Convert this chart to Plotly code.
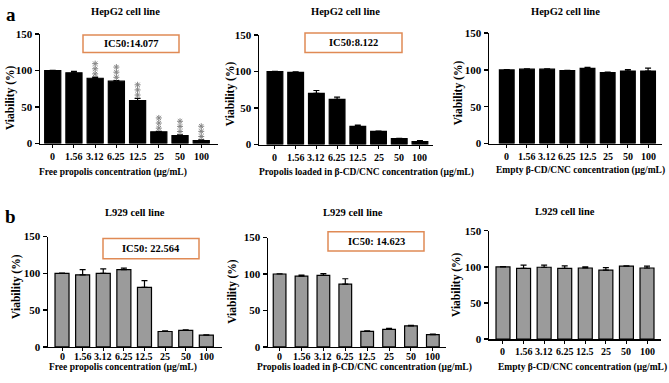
import plotly.graph_objects as go

W, H = 669, 383
conc = ["0", "1.56", "3.12", "6.25", "12.5", "25", "50", "100"]

# HepG2
hep_free = [100, 97, 89.5, 85.5, 59, 16, 11, 4]
hep_free_err = [0.3, 1.8, 1.5, 0.8, 3, 0.6, 1.0, 1.2]
hep_free_sig = [0, 0, 3, 3, 3, 3, 3, 3]   # number of asterisks (***)
hep_load = [100, 99, 70, 62, 25, 18, 8, 4]
hep_load_err = [0.3, 0.5, 4, 3, 1.5, 0.5, 0.6, 1.2]
hep_empty = [100, 101, 101, 99, 102, 96.5, 98.5, 98.5]
hep_empty_err = [0.3, 0.6, 0.6, 0.5, 1.5, 0.6, 2.0, 4.0]

# L929
l9_free = [100, 98, 100, 105, 81, 21, 22.5, 16]
l9_free_err = [0.3, 7, 6, 2, 9, 1, 0.6, 0.5]
l9_load = [100, 97, 98, 86, 21.5, 24, 29, 17]
l9_load_err = [0.3, 1.5, 2.5, 7.5, 0.6, 1.5, 0.6, 0.5]
l9_empty = [100, 98, 99.5, 98, 98.5, 95.5, 101, 98.5]
l9_empty_err = [0.3, 4.5, 3, 3.5, 1.5, 3.5, 0.5, 2.5]

panels = [
    dict(v=hep_free, e=hep_free_err, sig=hep_free_sig, color="black", px=(40, 218), py=(29, 142),
         xr=(-0.6, 7.79), bw=0.76, title="HepG2 cell line", tx=125, ty=6,
         xt="Free propolis concentration (µg/mL)", xtx=113, xty=172, tky=155,
         yt=(10, 95), ic="IC50:14.077", box=(83, 30, 179, 48)),
    dict(v=hep_load, e=hep_load_err, sig=None, color="black", px=(259, 433), py=(30, 143),
         xr=(-0.77, 7.63), bw=0.76, title="HepG2 cell line", tx=345, ty=6,
         xt="Propolis loaded in β-CD/CNC concentration (µg/mL)", xtx=366, xty=172, tky=156,
         yt=(230, 90), ic="IC50:8.122", box=(305, 28, 402, 48)),
    dict(v=hep_empty, e=hep_empty_err, sig=None, color="black", px=(489, 662), py=(28, 142),
         xr=(-0.88, 7.69), bw=0.73, title="HepG2 cell line", tx=565, ty=6,
         xt="Empty β-CD/CNC concentration (µg/mL)", xtx=580, xty=170, tky=155,
         yt=(458, 90), ic=None, box=None),
    dict(v=l9_free, e=l9_free_err, sig=None, color="#9b9b9b", px=(48, 222), py=(238, 352),
         xr=(-0.68, 7.76), bw=0.68, title="L929 cell line", tx=135, ty=213,
         xt="Free propolis concentration (µg/mL)", xtx=123, xty=373, tky=362,
         yt=(17, 290), ic="IC50: 22.564", box=(103, 240, 199, 261)),
    dict(v=l9_load, e=l9_load_err, sig=None, color="#9b9b9b", px=(268, 446), py=(239, 352),
         xr=(-0.53, 7.6), bw=0.58, title="L929 cell line", tx=353, ty=213,
         xt="Propolis loaded in β-CD/CNC concentration (µg/mL)", xtx=364, xty=373, tky=362,
         yt=(233, 295), ic="IC50: 14.623", box=(328, 233, 424, 253)),
    dict(v=l9_empty, e=l9_empty_err, sig=None, color="#9b9b9b", px=(489, 661), py=(232, 344),
         xr=(-0.68, 7.68), bw=0.68, title="L929 cell line", tx=565, ty=212,
         xt="Empty β-CD/CNC concentration (µg/mL)", xtx=582, xty=373, tky=357,
         yt=(457, 288), ic=None, box=None),
]

FONT = "Liberation Serif"
fig = go.Figure()
annotations = []
shapes = []
layout = dict(width=W, height=H, margin=dict(l=0, r=0, t=0, b=0),
              plot_bgcolor="white", paper_bgcolor="white", showlegend=False,
              font=dict(family=FONT, color="black"), bargap=0, hovermode=False)

def fx(p):
    return p / W

def fy(p):
    return 1 - p / H

for i, p in enumerate(panels):
    n = i + 1
    xa = "x" if n == 1 else f"x{n}"
    ya = "y" if n == 1 else f"y{n}"
    xs = list(range(len(conc)))
    fig.add_trace(go.Bar(
        x=xs, y=p["v"], xaxis=xa, yaxis=ya, width=p["bw"],
        marker=dict(color=p["color"], line=dict(color="black", width=1.2)),
        error_y=dict(type="data", symmetric=False, array=p["e"], arrayminus=[0] * len(xs),
                     color="black", thickness=1.2, width=3),
    ))
    if p["sig"]:
        sx, sy = [], []
        for k, cnt in enumerate(p["sig"]):
            top = p["v"][k] + p["e"][k]
            for j in range(cnt):
                sx.append(k)
                sy.append(top + 4.5 + 7.0 * j)
        fig.add_trace(go.Scatter(x=sx, y=sy, xaxis=xa, yaxis=ya, mode="markers",
                                 marker=dict(symbol="asterisk-open", size=5, color="#858585",
                                             line=dict(color="#858585", width=1))))
    xkey = "xaxis" if n == 1 else f"xaxis{n}"
    ykey = "yaxis" if n == 1 else f"yaxis{n}"
    layout[xkey] = dict(domain=[fx(p["px"][0]), fx(p["px"][1])], range=list(p["xr"]),
                        anchor=ya, showline=True, linecolor="black", linewidth=1.5,
                        tickmode="array", tickvals=xs, ticktext=[""] * len(xs),
                        ticks="outside", ticklen=3, tickwidth=1, tickcolor="black",
                        showgrid=False, zeroline=False, fixedrange=True)
    layout[ykey] = dict(domain=[fy(p["py"][1]), fy(p["py"][0])], range=[0, 150],
                        anchor=xa, showline=True, linecolor="black", linewidth=1.5,
                        tickvals=[0, 50, 100, 150], ticks="outside", ticklen=4,
                        tickwidth=1.5, tickcolor="black",
                        tickfont=dict(family=FONT, size=11, color="black", weight="bold"),
                        showgrid=False, zeroline=False, fixedrange=True)
    for k, c in enumerate(conc):
        annotations.append(dict(x=k, xref=xa, y=fy(p["tky"]), yref="paper", text=f"<b>{c}</b>",
                                showarrow=False, font=dict(family=FONT, size=10),
                                xanchor="center", yanchor="middle"))
    annotations.append(dict(x=fx(p["tx"]), y=fy(p["ty"]), xref="paper", yref="paper",
                            text=f"<b>{p['title']}</b>", showarrow=False,
                            font=dict(family=FONT, size=10.5), xanchor="center", yanchor="middle"))
    annotations.append(dict(x=fx(p["xtx"]), y=fy(p["xty"]), xref="paper", yref="paper",
                            text=f"<b>{p['xt']}</b>", showarrow=False,
                            font=dict(family=FONT, size=9.5), xanchor="center", yanchor="middle"))
    annotations.append(dict(x=fx(p["yt"][0]), y=fy(p["yt"][1]), xref="paper", yref="paper",
                            text="<b>Viability (%)</b>", showarrow=False, textangle=-90,
                            font=dict(family=FONT, size=11.5), xanchor="center", yanchor="middle"))
    if p["ic"]:
        x0, y0, x1, y1 = p["box"]
        shapes.append(dict(type="rect", xref="paper", yref="paper",
                           x0=fx(x0), x1=fx(x1), y0=fy(y1), y1=fy(y0),
                           line=dict(color="#e08a55", width=1.5), fillcolor="rgba(0,0,0,0)"))
        annotations.append(dict(x=fx((x0 + x1) / 2), y=fy((y0 + y1) / 2), xref="paper", yref="paper",
                                text=f"<b>{p['ic']}</b>", showarrow=False,
                                font=dict(family=FONT, size=10.5), xanchor="center", yanchor="middle"))

annotations.append(dict(x=fx(11), y=fy(9), xref="paper", yref="paper", text="<b>a</b>",
                        showarrow=False, font=dict(family=FONT, size=19), xanchor="center", yanchor="middle"))
annotations.append(dict(x=fx(10), y=fy(217), xref="paper", yref="paper", text="<b>b</b>",
                        showarrow=False, font=dict(family=FONT, size=19), xanchor="center", yanchor="middle"))

layout["annotations"] = annotations
layout["shapes"] = shapes
fig.update_layout(**layout)
fig.write_html("out.html", config={"displayModeBar": False, "staticPlot": True},
               post_script="document.body.style.margin='0';document.body.style.overflow='hidden';")
